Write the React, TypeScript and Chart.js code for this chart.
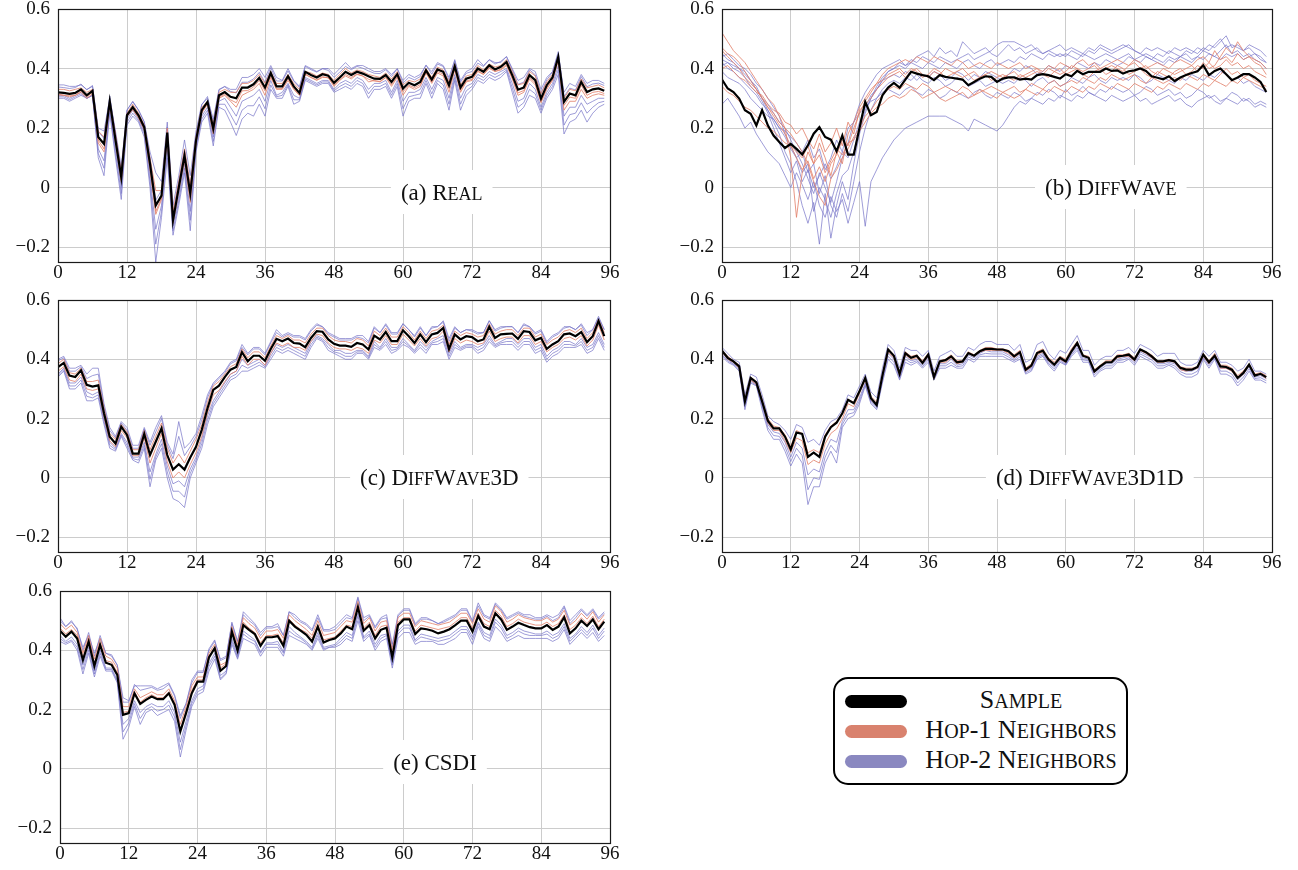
import React, { useEffect, useRef } from "react";
import { Chart, registerables } from "chart.js";

Chart.register(...registerables);

const SERIF = "'Liberation Serif', 'Times New Roman', serif";

const X_TICKS = [0, 12, 24, 36, 48, 60, 72, 84, 96];
const Y_TICKS = [-0.2, 0, 0.2, 0.4, 0.6];
const X_MIN = 0;
const X_MAX = 96;
const Y_MIN = -0.25;
const Y_MAX = 0.6;

const PANEL_LETTERS = ["(a) ", "(b) ", "(c) ", "(d) ", "(e) "];
const PANEL_NAMES = ["Real", "DiffWave", "DiffWave3D", "DiffWave3D1D", "CSDI"];
const LEGEND_LABELS = ["Sample", "Hop-1 Neighbors", "Hop-2 Neighbors"];

const COLOR_SAMPLE = "#000000";
const COLOR_HOP1 = "rgba(226,128,106,0.82)";
const COLOR_HOP2 = "rgba(118,116,200,0.70)";
const LEGEND_COLORS = ["#000000", "#D9826E", "#8A88C0"];

// ---------------- (a) Real ----------------
const A_SAMPLE = [0.32,0.318,0.315,0.318,0.33,0.31,0.325,0.17,0.147,0.29,
0.16,0.035,0.243,0.27,0.243,0.203,0.08,-0.06,-0.027,0.185,
-0.11,0.0,0.108,-0.02,0.158,0.26,0.288,0.198,0.31,0.321,
0.305,0.3,0.336,0.336,0.347,0.369,0.336,0.385,0.34,0.34,
0.374,0.34,0.318,0.389,0.378,0.37,0.381,0.376,0.352,0.37,
0.389,0.378,0.389,0.383,0.374,0.366,0.365,0.378,0.355,0.381,
0.333,0.352,0.344,0.355,0.394,0.363,0.397,0.389,0.344,0.408,
0.336,0.366,0.372,0.4,0.389,0.411,0.397,0.406,0.422,0.378,
0.329,0.336,0.378,0.361,0.299,0.344,0.37,0.439,0.288,0.316,
0.31,0.355,0.321,0.33,0.333,0.325];
const A_HOP1_1 = [0.33,0.33,0.325,0.33,0.335,0.32,0.33,0.19,0.17,0.29,
0.18,0.05,0.25,0.28,0.25,0.21,0.10,-0.01,-0.01,0.20,
-0.08,0.02,0.13,0.01,0.17,0.27,0.29,0.21,0.32,0.33,
0.32,0.32,0.35,0.35,0.36,0.38,0.35,0.39,0.35,0.35,
0.38,0.35,0.33,0.39,0.385,0.375,0.385,0.38,0.36,0.38,
0.40,0.385,0.395,0.39,0.38,0.375,0.37,0.385,0.365,0.39,
0.345,0.36,0.355,0.365,0.40,0.37,0.405,0.395,0.355,0.415,
0.345,0.375,0.38,0.41,0.395,0.415,0.405,0.41,0.43,0.39,
0.345,0.35,0.39,0.375,0.315,0.355,0.38,0.44,0.30,0.33,
0.325,0.365,0.335,0.34,0.345,0.335];
const A_HOP1_2 = [0.315,0.31,0.31,0.31,0.325,0.305,0.32,0.15,0.12,0.28,
0.15,0.02,0.24,0.265,0.235,0.195,0.06,-0.09,-0.04,0.17,
-0.12,-0.01,0.09,-0.05,0.15,0.25,0.28,0.18,0.30,0.31,
0.29,0.27,0.31,0.32,0.33,0.35,0.31,0.37,0.33,0.33,
0.36,0.33,0.31,0.38,0.37,0.36,0.37,0.37,0.34,0.36,
0.375,0.365,0.38,0.375,0.355,0.36,0.355,0.37,0.34,0.37,
0.31,0.34,0.33,0.34,0.385,0.35,0.385,0.375,0.32,0.395,
0.32,0.355,0.36,0.39,0.38,0.40,0.39,0.395,0.41,0.365,
0.31,0.32,0.365,0.345,0.285,0.33,0.36,0.425,0.26,0.29,
0.29,0.33,0.30,0.31,0.315,0.31];
const A_HOP1_3 = [0.312,0.31,0.305,0.31,0.32,0.30,0.315,0.16,0.13,0.285,
0.155,0.025,0.238,0.262,0.235,0.195,0.07,-0.08,-0.035,0.178,
-0.115,-0.005,0.10,-0.03,0.152,0.255,0.282,0.19,0.304,0.314,
0.295,0.285,0.325,0.326,0.338,0.36,0.325,0.377,0.332,0.333,
0.366,0.332,0.31,0.382,0.37,0.362,0.373,0.368,0.344,0.362,
0.38,0.37,0.382,0.375,0.364,0.358,0.357,0.37,0.346,0.373,
0.322,0.344,0.336,0.346,0.387,0.355,0.39,0.381,0.333,0.4,
0.327,0.358,0.364,0.393,0.381,0.404,0.39,0.398,0.414,0.37,
0.318,0.326,0.37,0.352,0.29,0.336,0.362,0.43,0.276,0.304,
0.3,0.344,0.31,0.32,0.323,0.316];
const A_HOP2_1 = [0.345,0.345,0.34,0.34,0.345,0.33,0.34,0.20,0.19,0.30,
0.19,0.07,0.26,0.29,0.26,0.22,0.12,0.05,0.02,0.22,
-0.06,0.04,0.16,0.04,0.19,0.28,0.30,0.23,0.33,0.34,
0.33,0.33,0.37,0.37,0.38,0.40,0.37,0.41,0.37,0.36,
0.40,0.36,0.34,0.41,0.40,0.39,0.40,0.40,0.38,0.40,
0.42,0.40,0.41,0.41,0.40,0.39,0.39,0.40,0.38,0.40,
0.36,0.38,0.37,0.38,0.41,0.39,0.42,0.41,0.37,0.43,
0.36,0.39,0.40,0.43,0.41,0.43,0.42,0.42,0.44,0.40,
0.36,0.37,0.40,0.39,0.33,0.37,0.39,0.45,0.32,0.35,
0.34,0.38,0.35,0.36,0.36,0.35];
const A_HOP2_2 = [0.31,0.31,0.30,0.31,0.32,0.30,0.31,0.13,0.09,0.27,
0.13,0.00,0.23,0.26,0.23,0.19,0.04,-0.14,-0.06,0.15,
-0.13,-0.03,0.08,-0.08,0.14,0.24,0.27,0.17,0.29,0.30,
0.27,0.24,0.29,0.30,0.31,0.33,0.29,0.36,0.31,0.32,
0.35,0.31,0.30,0.37,0.36,0.35,0.36,0.36,0.33,0.35,
0.36,0.35,0.37,0.36,0.33,0.35,0.35,0.36,0.32,0.36,
0.29,0.32,0.32,0.33,0.37,0.33,0.37,0.36,0.30,0.38,
0.30,0.34,0.35,0.38,0.37,0.39,0.38,0.39,0.40,0.35,
0.29,0.30,0.35,0.33,0.27,0.32,0.35,0.41,0.24,0.27,
0.27,0.31,0.28,0.29,0.30,0.30];
const A_HOP2_3 = [0.30,0.30,0.29,0.30,0.31,0.30,0.31,0.10,0.04,0.25,
0.10,-0.04,0.21,0.24,0.22,0.17,0.00,-0.25,-0.10,0.10,
-0.16,-0.06,0.05,-0.145,0.12,0.22,0.25,0.14,0.27,0.26,
0.22,0.175,0.23,0.25,0.24,0.28,0.24,0.33,0.30,0.30,
0.34,0.28,0.29,0.36,0.35,0.34,0.35,0.35,0.32,0.33,
0.34,0.33,0.35,0.34,0.30,0.33,0.33,0.34,0.30,0.34,
0.24,0.29,0.30,0.30,0.35,0.30,0.35,0.33,0.26,0.36,
0.26,0.31,0.33,0.36,0.35,0.37,0.36,0.37,0.39,0.32,
0.25,0.27,0.31,0.30,0.25,0.30,0.33,0.38,0.18,0.22,
0.23,0.26,0.22,0.25,0.27,0.28];
const A_HOP2_4 = [0.305,0.305,0.295,0.305,0.315,0.30,0.31,0.115,0.065,0.26,
0.115,-0.02,0.22,0.25,0.225,0.18,0.02,-0.19,-0.08,0.125,
-0.145,-0.045,0.065,-0.11,0.13,0.23,0.26,0.155,0.28,0.28,
0.245,0.21,0.26,0.275,0.275,0.305,0.265,0.345,0.305,0.31,
0.345,0.295,0.295,0.365,0.355,0.345,0.355,0.355,0.325,0.34,
0.35,0.34,0.36,0.35,0.315,0.34,0.34,0.35,0.31,0.35,
0.265,0.305,0.31,0.315,0.36,0.315,0.36,0.345,0.28,0.37,
0.28,0.325,0.34,0.37,0.36,0.38,0.37,0.38,0.395,0.335,
0.27,0.285,0.33,0.315,0.26,0.31,0.34,0.395,0.21,0.245,
0.25,0.285,0.25,0.27,0.285,0.29];
const A_HOP2_5 = [0.338,0.336,0.333,0.336,0.348,0.328,0.343,0.188,0.165,0.308,
0.178,0.053,0.261,0.288,0.261,0.221,0.098,-0.042,-0.009,0.203,
-0.092,0.018,0.126,-0.002,0.176,0.278,0.306,0.216,0.328,0.339,
0.323,0.318,0.354,0.354,0.365,0.387,0.354,0.403,0.358,0.358,
0.392,0.358,0.336,0.407,0.396,0.388,0.399,0.394,0.37,0.388,
0.407,0.396,0.407,0.401,0.392,0.384,0.383,0.396,0.373,0.399,
0.351,0.37,0.362,0.373,0.412,0.381,0.415,0.407,0.362,0.426,
0.354,0.384,0.39,0.418,0.407,0.429,0.415,0.424,0.44,0.396,
0.347,0.354,0.396,0.379,0.317,0.362,0.388,0.457,0.306,0.334,
0.328,0.373,0.339,0.348,0.351,0.343];

// ---------------- (b) DiffWave ----------------
const B_SAMPLE = [0.363,0.333,0.321,0.299,0.26,0.248,0.209,0.26,0.209,0.175,
0.153,0.133,0.147,0.13,0.111,0.142,0.181,0.203,0.17,0.161,
0.122,0.175,0.111,0.111,0.2,0.288,0.243,0.254,0.31,0.336,
0.352,0.336,0.363,0.389,0.383,0.378,0.374,0.361,0.378,0.372,
0.369,0.366,0.363,0.344,0.355,0.366,0.374,0.372,0.355,0.366,
0.37,0.37,0.363,0.366,0.363,0.378,0.381,0.378,0.372,0.366,
0.381,0.374,0.392,0.381,0.389,0.389,0.389,0.4,0.392,0.394,
0.383,0.391,0.394,0.4,0.392,0.374,0.369,0.364,0.374,0.358,
0.37,0.378,0.385,0.391,0.411,0.378,0.392,0.4,0.381,0.361,
0.37,0.381,0.381,0.37,0.355,0.321];
const B_HOP1_1 = [0.52,0.49,0.46,0.44,0.42,0.39,0.36,0.33,0.30,0.28,
0.24,0.20,0.10,-0.10,0.05,0.12,0.08,0.15,0.10,0.04,
0.12,0.08,0.18,0.22,0.27,0.30,0.33,0.35,0.38,0.40,
0.41,0.42,0.43,0.42,0.44,0.43,0.42,0.44,0.43,0.42,
0.41,0.43,0.42,0.40,0.41,0.42,0.41,0.40,0.42,0.41,
0.40,0.41,0.42,0.40,0.41,0.40,0.39,0.41,0.40,0.42,
0.41,0.40,0.42,0.43,0.41,0.42,0.40,0.41,0.42,0.43,
0.42,0.41,0.43,0.42,0.40,0.41,0.42,0.41,0.40,0.42,
0.43,0.42,0.41,0.43,0.44,0.42,0.46,0.43,0.44,0.42,
0.45,0.43,0.44,0.42,0.41,0.38];
const B_HOP1_2 = [0.46,0.44,0.42,0.40,0.37,0.35,0.33,0.30,0.27,0.25,
0.22,0.20,0.18,0.15,0.12,0.08,0.02,-0.03,-0.06,0.03,
0.06,0.10,0.13,0.17,0.20,0.24,0.26,0.29,0.31,0.33,
0.34,0.33,0.35,0.34,0.33,0.35,0.34,0.32,0.33,0.34,
0.33,0.32,0.34,0.33,0.31,0.32,0.33,0.34,0.33,0.32,
0.33,0.34,0.32,0.33,0.35,0.34,0.33,0.35,0.36,0.34,
0.35,0.36,0.35,0.37,0.36,0.35,0.37,0.36,0.38,0.37,
0.36,0.37,0.38,0.36,0.35,0.37,0.36,0.35,0.36,0.37,
0.36,0.38,0.37,0.36,0.38,0.37,0.36,0.38,0.40,0.38,
0.39,0.37,0.38,0.36,0.35,0.34];
const B_HOP1_3 = [0.40,0.41,0.39,0.37,0.36,0.34,0.32,0.31,0.28,0.26,
0.25,0.22,0.21,0.18,0.20,0.16,0.13,0.18,0.12,0.15,
0.20,0.14,0.22,0.18,0.26,0.28,0.30,0.33,0.35,0.37,
0.38,0.39,0.37,0.39,0.40,0.38,0.37,0.39,0.38,0.40,
0.39,0.38,0.37,0.38,0.36,0.37,0.38,0.36,0.37,0.38,
0.37,0.36,0.38,0.37,0.38,0.39,0.38,0.40,0.39,0.38,
0.39,0.41,0.40,0.39,0.40,0.41,0.39,0.40,0.41,0.40,
0.39,0.41,0.42,0.40,0.41,0.39,0.38,0.40,0.39,0.38,
0.39,0.40,0.41,0.39,0.42,0.40,0.41,0.44,0.47,0.45,
0.49,0.46,0.44,0.43,0.42,0.40];
const B_HOP1_4 = [0.34,0.32,0.31,0.29,0.27,0.26,0.24,0.22,0.20,0.19,
0.17,0.15,0.14,0.12,0.10,0.14,0.08,0.11,0.05,0.09,
0.13,0.11,0.15,0.16,0.19,0.22,0.25,0.27,0.28,0.30,
0.31,0.30,0.31,0.33,0.32,0.30,0.31,0.32,0.30,0.29,
0.30,0.31,0.32,0.30,0.31,0.33,0.32,0.31,0.30,0.32,
0.31,0.30,0.31,0.33,0.32,0.31,0.33,0.32,0.34,0.33,
0.32,0.34,0.33,0.32,0.34,0.33,0.35,0.34,0.33,0.35,
0.34,0.33,0.35,0.34,0.33,0.32,0.34,0.33,0.35,0.34,
0.33,0.35,0.34,0.33,0.35,0.34,0.36,0.35,0.34,0.36,
0.35,0.37,0.36,0.35,0.34,0.33];
const B_HOP1_5 = [0.47,0.45,0.44,0.42,0.39,0.36,0.33,0.30,0.27,0.24,
0.21,0.18,0.14,0.10,0.06,0.09,0.03,0.07,0.02,0.08,
0.11,0.16,0.14,0.20,0.25,0.29,0.32,0.35,0.36,0.38,
0.39,0.40,0.38,0.40,0.39,0.37,0.38,0.40,0.39,0.37,
0.38,0.39,0.40,0.38,0.39,0.37,0.38,0.39,0.38,0.37,
0.38,0.39,0.37,0.38,0.39,0.40,0.38,0.37,0.39,0.40,
0.38,0.39,0.40,0.38,0.37,0.39,0.40,0.38,0.39,0.41,
0.40,0.38,0.39,0.40,0.38,0.37,0.39,0.38,0.37,0.39,
0.40,0.38,0.39,0.41,0.40,0.42,0.40,0.41,0.43,0.41,
0.42,0.40,0.41,0.39,0.38,0.37];
const B_HOP2_1 = [0.43,0.42,0.41,0.40,0.38,0.36,0.34,0.30,0.28,0.25,
0.22,0.20,0.16,0.12,0.08,0.03,-0.02,0.05,0.00,-0.05,
0.02,0.10,0.15,0.22,0.28,0.32,0.35,0.38,0.40,0.41,
0.42,0.43,0.41,0.42,0.44,0.45,0.46,0.44,0.47,0.45,
0.46,0.44,0.49,0.47,0.45,0.46,0.47,0.45,0.44,0.46,
0.48,0.46,0.47,0.45,0.46,0.47,0.45,0.46,0.47,0.48,
0.46,0.47,0.46,0.45,0.47,0.46,0.48,0.47,0.46,0.47,
0.48,0.47,0.46,0.45,0.47,0.46,0.47,0.46,0.45,0.47,
0.46,0.47,0.46,0.45,0.47,0.46,0.48,0.50,0.47,0.48,
0.47,0.46,0.48,0.47,0.46,0.44];
const B_HOP2_2 = [0.45,0.43,0.42,0.40,0.39,0.36,0.33,0.30,0.26,0.22,
0.18,0.12,0.08,0.02,-0.06,-0.12,-0.05,-0.19,-0.02,-0.17,
-0.06,0.02,-0.04,0.08,0.18,0.25,0.30,0.34,0.37,0.39,
0.40,0.42,0.41,0.43,0.42,0.44,0.43,0.42,0.44,0.43,
0.42,0.43,0.44,0.45,0.43,0.44,0.45,0.46,0.48,0.49,
0.49,0.49,0.48,0.47,0.48,0.46,0.45,0.46,0.45,0.44,
0.45,0.44,0.43,0.45,0.44,0.43,0.44,0.45,0.44,0.43,
0.44,0.45,0.43,0.44,0.45,0.44,0.43,0.42,0.44,0.43,
0.44,0.45,0.43,0.44,0.46,0.45,0.44,0.43,0.45,0.44,
0.45,0.43,0.44,0.45,0.43,0.42];
const B_HOP2_3 = [0.28,0.30,0.27,0.24,0.20,0.22,0.18,0.15,0.12,0.10,
0.08,0.04,0.00,0.05,0.01,-0.04,0.02,-0.06,-0.10,-0.03,
-0.08,-0.04,-0.12,-0.05,0.02,-0.13,0.02,0.06,0.10,0.13,
0.16,0.18,0.20,0.21,0.22,0.23,0.24,0.24,0.24,0.24,
0.23,0.22,0.21,0.19,0.23,0.22,0.21,0.20,0.19,0.21,
0.24,0.27,0.29,0.28,0.30,0.29,0.28,0.30,0.29,0.31,
0.30,0.29,0.31,0.30,0.32,0.31,0.30,0.29,0.31,0.30,
0.29,0.30,0.31,0.29,0.30,0.28,0.29,0.30,0.31,0.29,
0.30,0.28,0.27,0.29,0.30,0.31,0.29,0.28,0.30,0.29,
0.28,0.30,0.29,0.27,0.28,0.27];
const B_HOP2_4 = [0.41,0.42,0.40,0.39,0.37,0.34,0.32,0.29,0.25,0.20,
0.15,0.10,0.05,0.09,0.02,0.06,0.00,0.04,0.08,0.03,
0.07,0.12,0.10,0.16,0.22,0.27,0.31,0.33,0.36,0.37,
0.38,0.37,0.39,0.38,0.36,0.38,0.37,0.39,0.38,0.36,
0.37,0.39,0.38,0.36,0.38,0.37,0.39,0.38,0.37,0.36,
0.38,0.40,0.39,0.41,0.40,0.38,0.39,0.41,0.40,0.39,
0.41,0.40,0.42,0.41,0.40,0.42,0.41,0.43,0.42,0.41,
0.42,0.44,0.43,0.42,0.44,0.43,0.42,0.41,0.43,0.42,
0.44,0.43,0.42,0.44,0.43,0.45,0.44,0.46,0.48,0.45,
0.46,0.44,0.45,0.43,0.42,0.40];
const B_HOP2_5 = [0.39,0.37,0.36,0.35,0.33,0.30,0.28,0.26,0.24,0.23,
0.20,0.19,0.17,0.15,0.12,0.16,0.10,0.13,0.06,0.10,
0.16,0.12,0.20,0.22,0.25,0.27,0.29,0.30,0.32,0.33,
0.32,0.31,0.33,0.34,0.32,0.31,0.33,0.32,0.30,0.31,
0.33,0.32,0.31,0.30,0.32,0.33,0.31,0.30,0.32,0.31,
0.30,0.32,0.31,0.29,0.30,0.32,0.31,0.33,0.32,0.30,
0.33,0.31,0.32,0.34,0.32,0.31,0.33,0.32,0.34,0.33,
0.32,0.33,0.31,0.32,0.34,0.33,0.31,0.32,0.33,0.31,
0.32,0.30,0.31,0.33,0.32,0.30,0.31,0.29,0.30,0.32,
0.31,0.29,0.30,0.28,0.29,0.28];
const B_HOP2_6 = [0.44,0.45,0.43,0.41,0.40,0.38,0.35,0.33,0.30,0.27,
0.24,0.18,0.14,0.10,0.05,0.08,-0.08,0.00,-0.04,-0.10,
-0.02,0.04,0.06,0.12,0.20,0.26,0.30,0.33,0.36,0.39,
0.40,0.41,0.40,0.42,0.41,0.40,0.42,0.41,0.40,0.42,
0.41,0.40,0.42,0.43,0.41,0.40,0.42,0.43,0.41,0.42,
0.43,0.42,0.44,0.43,0.45,0.44,0.43,0.45,0.44,0.45,
0.44,0.46,0.45,0.44,0.46,0.45,0.47,0.46,0.45,0.46,
0.47,0.48,0.46,0.45,0.44,0.43,0.45,0.44,0.46,0.45,
0.44,0.46,0.45,0.47,0.46,0.48,0.47,0.49,0.51,0.47,
0.48,0.46,0.47,0.45,0.44,0.42];
const B_HOP2_7 = [0.42,0.40,0.39,0.37,0.35,0.33,0.31,0.28,0.26,0.23,
0.20,0.17,0.13,0.10,0.12,0.05,0.08,-0.02,0.04,-0.06,
-0.10,-0.02,-0.08,0.02,0.12,0.20,0.26,0.30,0.33,0.35,
0.36,0.35,0.37,0.36,0.38,0.36,0.35,0.37,0.36,0.34,
0.35,0.37,0.36,0.34,0.35,0.36,0.34,0.35,0.36,0.35,
0.36,0.35,0.37,0.36,0.34,0.36,0.37,0.35,0.36,0.34,
0.35,0.37,0.36,0.35,0.37,0.38,0.36,0.35,0.37,0.36,
0.37,0.36,0.38,0.37,0.35,0.36,0.38,0.37,0.36,0.35,
0.37,0.36,0.38,0.37,0.36,0.38,0.37,0.39,0.38,0.36,
0.37,0.35,0.36,0.34,0.33,0.32];

// ---------------- (c) DiffWave3D ----------------
const C_SAMPLE = [0.374,0.388,0.345,0.34,0.363,0.314,0.308,0.312,0.218,0.139,
0.116,0.173,0.145,0.082,0.082,0.148,0.077,0.122,0.167,0.077,
0.028,0.046,0.028,0.069,0.105,0.162,0.235,0.297,0.311,0.34,
0.365,0.374,0.424,0.393,0.412,0.412,0.395,0.435,0.469,0.461,
0.47,0.455,0.453,0.441,0.472,0.495,0.493,0.467,0.452,0.446,
0.446,0.442,0.455,0.45,0.433,0.48,0.467,0.492,0.461,0.461,
0.498,0.478,0.455,0.484,0.458,0.484,0.489,0.506,0.435,0.484,
0.467,0.478,0.475,0.461,0.467,0.51,0.472,0.484,0.486,0.487,
0.469,0.495,0.492,0.464,0.472,0.435,0.45,0.461,0.484,0.487,
0.478,0.492,0.458,0.478,0.529,0.478];
const C_HOP1_1 = [0.385,0.40,0.355,0.35,0.37,0.325,0.325,0.33,0.235,0.15,
0.13,0.18,0.155,0.095,0.095,0.16,0.095,0.14,0.185,0.10,
0.05,0.08,0.05,0.09,0.13,0.18,0.255,0.31,0.325,0.35,
0.375,0.385,0.435,0.405,0.425,0.425,0.405,0.445,0.48,0.47,
0.48,0.465,0.465,0.455,0.485,0.505,0.505,0.48,0.465,0.46,
0.46,0.455,0.47,0.465,0.445,0.495,0.48,0.505,0.475,0.475,
0.51,0.49,0.465,0.495,0.47,0.495,0.50,0.515,0.45,0.495,
0.48,0.49,0.485,0.475,0.48,0.52,0.485,0.495,0.50,0.50,
0.48,0.505,0.505,0.475,0.485,0.45,0.465,0.475,0.495,0.50,
0.49,0.505,0.47,0.49,0.535,0.49];
const C_HOP1_2 = [0.36,0.375,0.33,0.325,0.35,0.30,0.295,0.30,0.205,0.125,
0.105,0.16,0.135,0.075,0.075,0.135,0.05,0.10,0.15,0.055,
0.0,0.02,0.0,0.045,0.085,0.14,0.22,0.28,0.295,0.325,
0.35,0.36,0.41,0.38,0.40,0.40,0.38,0.42,0.455,0.445,
0.455,0.44,0.44,0.43,0.46,0.485,0.48,0.455,0.44,0.435,
0.435,0.43,0.44,0.435,0.42,0.465,0.455,0.48,0.45,0.45,
0.485,0.465,0.445,0.47,0.445,0.47,0.475,0.495,0.425,0.47,
0.455,0.465,0.46,0.45,0.455,0.495,0.46,0.47,0.475,0.475,
0.455,0.48,0.48,0.45,0.46,0.425,0.44,0.45,0.47,0.475,
0.465,0.48,0.445,0.465,0.515,0.465];
const C_HOP2_1 = [0.40,0.41,0.37,0.37,0.38,0.35,0.37,0.37,0.25,0.17,
0.14,0.19,0.17,0.11,0.11,0.17,0.12,0.17,0.21,0.12,
0.08,0.19,0.10,0.12,0.15,0.21,0.28,0.32,0.34,0.36,
0.39,0.40,0.45,0.42,0.44,0.44,0.42,0.46,0.50,0.48,
0.49,0.48,0.48,0.47,0.50,0.52,0.51,0.49,0.48,0.47,
0.47,0.47,0.48,0.48,0.46,0.51,0.49,0.52,0.49,0.49,
0.52,0.50,0.48,0.51,0.48,0.51,0.51,0.53,0.47,0.51,
0.49,0.50,0.50,0.49,0.49,0.53,0.50,0.51,0.51,0.51,
0.49,0.52,0.51,0.49,0.50,0.46,0.48,0.49,0.51,0.51,
0.50,0.52,0.49,0.50,0.54,0.50];
const C_HOP2_2 = [0.35,0.37,0.32,0.32,0.34,0.29,0.28,0.29,0.20,0.12,
0.10,0.15,0.12,0.07,0.07,0.12,0.02,0.08,0.13,0.04,
-0.02,-0.01,-0.03,0.03,0.07,0.13,0.21,0.26,0.29,0.32,
0.35,0.36,0.40,0.38,0.39,0.40,0.38,0.42,0.45,0.44,
0.45,0.44,0.43,0.42,0.46,0.48,0.47,0.45,0.43,0.43,
0.42,0.42,0.43,0.43,0.41,0.46,0.44,0.47,0.44,0.44,
0.47,0.45,0.43,0.46,0.44,0.46,0.47,0.48,0.42,0.46,
0.44,0.45,0.45,0.44,0.45,0.48,0.45,0.46,0.47,0.47,
0.45,0.47,0.47,0.44,0.45,0.41,0.43,0.44,0.46,0.46,
0.45,0.47,0.44,0.45,0.49,0.45];
const C_HOP2_3 = [0.34,0.36,0.30,0.30,0.32,0.26,0.26,0.27,0.18,0.10,
0.09,0.14,0.10,0.06,0.05,0.10,-0.03,0.06,0.10,0.00,
-0.07,-0.08,-0.10,0.00,0.05,0.10,0.18,0.24,0.27,0.30,
0.33,0.34,0.36,0.36,0.37,0.38,0.37,0.40,0.43,0.42,
0.43,0.42,0.41,0.40,0.44,0.47,0.46,0.43,0.42,0.41,
0.40,0.40,0.42,0.42,0.40,0.44,0.43,0.45,0.42,0.43,
0.45,0.44,0.42,0.44,0.42,0.45,0.45,0.46,0.40,0.44,
0.43,0.44,0.44,0.42,0.43,0.46,0.44,0.45,0.45,0.45,
0.43,0.45,0.45,0.42,0.43,0.39,0.41,0.42,0.44,0.44,
0.44,0.45,0.42,0.43,0.47,0.43];
const C_HOP2_4 = [0.395,0.405,0.36,0.36,0.375,0.335,0.345,0.35,0.24,0.16,
0.135,0.185,0.16,0.10,0.10,0.165,0.11,0.155,0.20,0.11,
0.065,0.14,0.075,0.105,0.14,0.195,0.27,0.315,0.335,0.355,
0.385,0.395,0.44,0.415,0.435,0.435,0.415,0.455,0.49,0.475,
0.485,0.475,0.475,0.465,0.495,0.515,0.51,0.485,0.475,0.465,
0.465,0.465,0.475,0.47,0.455,0.505,0.49,0.515,0.485,0.485,
0.52,0.50,0.475,0.505,0.48,0.505,0.51,0.525,0.46,0.505,
0.49,0.50,0.495,0.485,0.49,0.53,0.495,0.505,0.51,0.51,
0.49,0.515,0.51,0.485,0.495,0.455,0.475,0.485,0.505,0.51,
0.50,0.515,0.48,0.50,0.545,0.50];
const C_HOP2_5 = [0.345,0.365,0.31,0.31,0.33,0.275,0.27,0.28,0.19,0.11,
0.095,0.145,0.11,0.065,0.06,0.11,-0.005,0.07,0.115,0.02,
-0.045,-0.045,-0.065,0.015,0.06,0.115,0.195,0.25,0.28,0.31,
0.34,0.35,0.38,0.37,0.38,0.39,0.375,0.41,0.44,0.43,
0.44,0.43,0.42,0.41,0.45,0.475,0.465,0.44,0.425,0.42,
0.41,0.41,0.425,0.425,0.405,0.45,0.435,0.46,0.43,0.435,
0.46,0.445,0.425,0.45,0.43,0.455,0.46,0.47,0.41,0.45,
0.435,0.445,0.445,0.43,0.44,0.47,0.445,0.455,0.46,0.46,
0.44,0.46,0.46,0.43,0.44,0.40,0.42,0.43,0.45,0.45,
0.445,0.46,0.43,0.44,0.48,0.44];

// ---------------- (d) DiffWave3D1D ----------------
const D_SAMPLE = [0.429,0.405,0.393,0.376,0.258,0.337,0.322,0.258,0.193,0.167,
0.167,0.139,0.096,0.153,0.148,0.071,0.085,0.071,0.139,0.171,
0.186,0.218,0.263,0.252,0.292,0.337,0.269,0.246,0.345,0.433,
0.412,0.351,0.421,0.405,0.412,0.388,0.416,0.34,0.393,0.397,
0.41,0.39,0.393,0.421,0.412,0.427,0.435,0.435,0.433,0.433,
0.427,0.41,0.424,0.365,0.379,0.421,0.429,0.399,0.382,0.405,
0.393,0.427,0.455,0.412,0.405,0.359,0.376,0.39,0.39,0.41,
0.412,0.416,0.399,0.433,0.424,0.41,0.393,0.393,0.397,0.393,
0.371,0.365,0.365,0.374,0.416,0.39,0.412,0.376,0.374,0.365,
0.337,0.354,0.382,0.345,0.351,0.34];
const D_HOP1_1 = [0.43,0.41,0.395,0.38,0.265,0.34,0.325,0.265,0.20,0.175,
0.17,0.145,0.105,0.16,0.15,0.085,0.095,0.085,0.145,0.175,
0.19,0.22,0.265,0.255,0.295,0.34,0.275,0.255,0.35,0.435,
0.415,0.355,0.425,0.41,0.415,0.395,0.42,0.345,0.395,0.40,
0.415,0.395,0.395,0.425,0.415,0.43,0.44,0.44,0.435,0.435,
0.43,0.415,0.43,0.37,0.385,0.425,0.435,0.405,0.39,0.41,
0.40,0.435,0.46,0.415,0.41,0.365,0.38,0.395,0.395,0.415,
0.415,0.42,0.405,0.435,0.425,0.415,0.395,0.395,0.40,0.395,
0.375,0.37,0.37,0.375,0.42,0.395,0.42,0.38,0.38,0.37,
0.345,0.36,0.385,0.35,0.355,0.345];
const D_HOP1_2 = [0.425,0.40,0.39,0.37,0.255,0.33,0.315,0.255,0.185,0.16,
0.16,0.125,0.085,0.135,0.125,0.045,0.06,0.05,0.115,0.15,
0.165,0.20,0.25,0.24,0.285,0.33,0.265,0.245,0.34,0.425,
0.405,0.345,0.415,0.40,0.405,0.385,0.41,0.335,0.39,0.39,
0.405,0.385,0.39,0.42,0.41,0.425,0.43,0.43,0.43,0.43,
0.42,0.405,0.42,0.36,0.375,0.415,0.425,0.395,0.38,0.40,
0.39,0.425,0.45,0.41,0.405,0.355,0.375,0.39,0.39,0.405,
0.41,0.41,0.395,0.43,0.42,0.405,0.39,0.39,0.395,0.39,
0.365,0.36,0.365,0.37,0.41,0.385,0.415,0.37,0.37,0.36,
0.335,0.35,0.38,0.345,0.35,0.335];
const D_HOP2_1 = [0.44,0.42,0.40,0.39,0.28,0.35,0.34,0.28,0.21,0.19,
0.18,0.16,0.13,0.18,0.17,0.12,0.13,0.11,0.16,0.19,
0.20,0.23,0.28,0.27,0.31,0.35,0.29,0.27,0.37,0.45,
0.43,0.37,0.44,0.43,0.43,0.41,0.43,0.36,0.41,0.42,
0.43,0.41,0.41,0.44,0.43,0.45,0.46,0.46,0.45,0.45,
0.45,0.43,0.45,0.39,0.40,0.45,0.46,0.42,0.40,0.43,
0.42,0.45,0.48,0.43,0.43,0.38,0.40,0.41,0.41,0.43,
0.43,0.44,0.42,0.45,0.44,0.43,0.41,0.42,0.42,0.42,
0.39,0.38,0.38,0.39,0.43,0.41,0.43,0.39,0.39,0.38,
0.36,0.37,0.40,0.36,0.36,0.35];
const D_HOP2_2 = [0.42,0.40,0.385,0.37,0.25,0.33,0.315,0.25,0.18,0.155,
0.15,0.12,0.07,0.12,0.10,0.01,0.03,0.02,0.09,0.13,
0.12,0.19,0.23,0.23,0.27,0.32,0.26,0.24,0.335,0.42,
0.40,0.34,0.41,0.395,0.40,0.38,0.405,0.335,0.385,0.385,
0.40,0.38,0.385,0.415,0.405,0.42,0.43,0.425,0.425,0.425,
0.415,0.40,0.415,0.36,0.37,0.41,0.42,0.39,0.375,0.40,
0.385,0.42,0.445,0.405,0.40,0.355,0.37,0.385,0.385,0.40,
0.405,0.41,0.395,0.425,0.415,0.405,0.385,0.385,0.39,0.385,
0.365,0.36,0.36,0.37,0.41,0.385,0.41,0.37,0.37,0.36,
0.33,0.35,0.375,0.34,0.345,0.335];
const D_HOP2_3 = [0.41,0.39,0.38,0.36,0.23,0.32,0.31,0.23,0.16,0.13,
0.13,0.09,0.04,0.08,0.05,-0.09,-0.03,-0.03,0.05,0.09,
0.05,0.17,0.20,0.21,0.25,0.31,0.25,0.23,0.32,0.40,
0.38,0.33,0.39,0.38,0.39,0.37,0.39,0.33,0.37,0.37,
0.38,0.37,0.37,0.40,0.39,0.41,0.41,0.41,0.41,0.41,
0.40,0.39,0.40,0.35,0.36,0.40,0.41,0.38,0.36,0.39,
0.38,0.41,0.43,0.39,0.39,0.34,0.36,0.37,0.37,0.39,
0.39,0.40,0.38,0.41,0.40,0.39,0.37,0.37,0.38,0.37,
0.35,0.34,0.34,0.35,0.40,0.37,0.40,0.35,0.35,0.34,
0.31,0.33,0.36,0.33,0.33,0.32];
const D_HOP2_4 = [0.415,0.395,0.383,0.365,0.24,0.325,0.312,0.24,0.17,0.143,
0.14,0.105,0.055,0.10,0.075,-0.04,0.0,-0.005,0.07,0.11,
0.085,0.18,0.215,0.22,0.26,0.315,0.255,0.235,0.328,0.41,
0.39,0.335,0.40,0.388,0.395,0.375,0.398,0.332,0.378,0.378,
0.39,0.375,0.378,0.408,0.398,0.415,0.42,0.418,0.418,0.418,
0.408,0.395,0.408,0.355,0.365,0.405,0.415,0.385,0.368,0.395,
0.382,0.415,0.438,0.398,0.395,0.348,0.365,0.378,0.378,0.395,
0.398,0.405,0.388,0.418,0.408,0.398,0.378,0.378,0.385,0.378,
0.358,0.35,0.35,0.36,0.405,0.378,0.405,0.36,0.36,0.35,
0.32,0.34,0.368,0.335,0.338,0.328];

// ---------------- (e) CSDI ----------------
const E_SAMPLE = [0.466,0.446,0.463,0.44,0.367,0.429,0.347,0.418,0.358,0.351,
0.317,0.182,0.188,0.255,0.219,0.233,0.244,0.235,0.235,0.255,
0.216,0.126,0.188,0.255,0.294,0.294,0.376,0.407,0.331,0.347,
0.463,0.399,0.485,0.469,0.455,0.415,0.444,0.444,0.448,0.415,
0.5,0.48,0.466,0.452,0.429,0.48,0.426,0.435,0.44,0.457,
0.48,0.471,0.545,0.466,0.485,0.44,0.469,0.476,0.376,0.485,
0.504,0.504,0.455,0.474,0.471,0.466,0.457,0.463,0.471,0.485,
0.5,0.5,0.463,0.516,0.48,0.471,0.525,0.504,0.469,0.48,
0.493,0.485,0.478,0.474,0.474,0.485,0.469,0.48,0.511,0.457,
0.474,0.5,0.482,0.504,0.471,0.497];
const E_HOP1_1 = [0.49,0.47,0.485,0.46,0.39,0.45,0.37,0.44,0.38,0.37,
0.34,0.21,0.21,0.27,0.24,0.25,0.26,0.25,0.25,0.27,
0.23,0.15,0.21,0.28,0.31,0.31,0.39,0.42,0.35,0.36,
0.48,0.42,0.51,0.49,0.475,0.44,0.465,0.465,0.47,0.44,
0.52,0.50,0.485,0.47,0.45,0.50,0.45,0.455,0.46,0.48,
0.50,0.495,0.565,0.49,0.51,0.465,0.495,0.50,0.40,0.51,
0.525,0.525,0.48,0.50,0.495,0.49,0.485,0.49,0.495,0.51,
0.525,0.525,0.49,0.54,0.505,0.495,0.55,0.53,0.495,0.505,
0.52,0.51,0.505,0.50,0.50,0.51,0.495,0.505,0.535,0.485,
0.50,0.525,0.505,0.53,0.495,0.52];
const E_HOP1_2 = [0.475,0.455,0.47,0.45,0.375,0.44,0.355,0.425,0.365,0.36,
0.325,0.19,0.195,0.26,0.225,0.24,0.25,0.24,0.24,0.26,
0.22,0.13,0.195,0.265,0.30,0.30,0.38,0.41,0.34,0.355,
0.47,0.41,0.495,0.475,0.46,0.425,0.45,0.45,0.455,0.425,
0.505,0.485,0.47,0.46,0.44,0.485,0.435,0.44,0.445,0.465,
0.485,0.48,0.55,0.475,0.495,0.45,0.48,0.485,0.385,0.495,
0.51,0.51,0.465,0.485,0.48,0.475,0.47,0.475,0.48,0.495,
0.51,0.51,0.475,0.525,0.49,0.48,0.535,0.515,0.48,0.49,
0.505,0.495,0.49,0.485,0.485,0.495,0.48,0.49,0.52,0.47,
0.485,0.51,0.49,0.515,0.48,0.505];
const E_HOP2_1 = [0.51,0.48,0.50,0.47,0.41,0.45,0.39,0.44,0.39,0.38,
0.35,0.24,0.23,0.28,0.28,0.28,0.28,0.27,0.28,0.29,
0.25,0.18,0.22,0.30,0.33,0.33,0.40,0.43,0.37,0.38,
0.49,0.43,0.53,0.51,0.49,0.46,0.48,0.48,0.49,0.45,
0.53,0.52,0.50,0.49,0.47,0.52,0.47,0.47,0.48,0.50,
0.52,0.51,0.58,0.51,0.52,0.48,0.51,0.52,0.42,0.52,
0.54,0.54,0.49,0.51,0.51,0.50,0.49,0.50,0.51,0.52,
0.54,0.54,0.50,0.56,0.52,0.51,0.56,0.54,0.51,0.52,
0.53,0.52,0.52,0.51,0.51,0.52,0.51,0.52,0.55,0.50,
0.52,0.54,0.52,0.54,0.51,0.53];
const E_HOP2_2 = [0.45,0.43,0.445,0.42,0.35,0.41,0.33,0.40,0.34,0.34,
0.30,0.15,0.17,0.23,0.19,0.21,0.22,0.21,0.21,0.23,
0.19,0.09,0.16,0.23,0.27,0.28,0.355,0.39,0.315,0.33,
0.44,0.38,0.465,0.45,0.435,0.395,0.425,0.425,0.43,0.395,
0.48,0.46,0.445,0.43,0.41,0.46,0.41,0.415,0.42,0.44,
0.46,0.45,0.525,0.445,0.465,0.42,0.45,0.455,0.36,0.465,
0.485,0.485,0.435,0.455,0.45,0.445,0.44,0.445,0.45,0.465,
0.48,0.48,0.445,0.495,0.46,0.45,0.505,0.485,0.45,0.46,
0.475,0.465,0.46,0.455,0.455,0.465,0.45,0.46,0.49,0.44,
0.455,0.48,0.46,0.485,0.45,0.475];
const E_HOP2_3 = [0.43,0.42,0.43,0.40,0.32,0.39,0.31,0.38,0.33,0.33,
0.29,0.10,0.14,0.21,0.15,0.19,0.20,0.18,0.19,0.20,
0.16,0.04,0.13,0.21,0.25,0.26,0.33,0.37,0.30,0.32,
0.42,0.37,0.44,0.43,0.42,0.38,0.41,0.41,0.41,0.38,
0.45,0.44,0.43,0.42,0.40,0.44,0.40,0.41,0.41,0.42,
0.44,0.43,0.50,0.43,0.45,0.40,0.43,0.44,0.34,0.44,
0.46,0.46,0.42,0.43,0.43,0.43,0.42,0.42,0.43,0.44,
0.46,0.46,0.42,0.48,0.44,0.43,0.48,0.46,0.43,0.44,
0.45,0.44,0.44,0.44,0.44,0.44,0.43,0.44,0.47,0.42,
0.44,0.46,0.44,0.46,0.43,0.45];
const E_HOP2_4 = [0.50,0.48,0.495,0.475,0.40,0.46,0.38,0.45,0.39,0.385,
0.35,0.225,0.225,0.285,0.265,0.27,0.275,0.265,0.27,0.285,
0.245,0.17,0.22,0.29,0.325,0.325,0.405,0.435,0.365,0.375,
0.495,0.43,0.52,0.50,0.485,0.45,0.475,0.475,0.48,0.45,
0.53,0.51,0.495,0.485,0.465,0.51,0.465,0.465,0.47,0.49,
0.51,0.505,0.575,0.50,0.515,0.475,0.505,0.51,0.41,0.515,
0.535,0.535,0.485,0.505,0.505,0.50,0.49,0.495,0.505,0.515,
0.535,0.535,0.495,0.55,0.515,0.505,0.555,0.535,0.505,0.515,
0.525,0.515,0.51,0.505,0.505,0.515,0.50,0.51,0.545,0.49,
0.51,0.535,0.515,0.535,0.505,0.525];
const E_HOP2_5 = [0.44,0.425,0.435,0.41,0.335,0.40,0.32,0.39,0.335,0.335,
0.295,0.125,0.155,0.22,0.17,0.20,0.21,0.195,0.20,0.215,
0.175,0.065,0.145,0.22,0.26,0.27,0.345,0.38,0.305,0.325,
0.43,0.375,0.455,0.44,0.43,0.39,0.42,0.42,0.42,0.39,
0.465,0.45,0.44,0.425,0.405,0.45,0.405,0.41,0.415,0.43,
0.45,0.44,0.515,0.44,0.455,0.41,0.44,0.45,0.35,0.455,
0.475,0.475,0.43,0.445,0.44,0.435,0.43,0.435,0.44,0.455,
0.47,0.47,0.435,0.49,0.45,0.44,0.495,0.475,0.44,0.45,
0.465,0.455,0.45,0.45,0.45,0.455,0.44,0.45,0.48,0.43,
0.45,0.47,0.45,0.475,0.44,0.465];

type Box = { left: number; top: number; width: number; height: number };
type Area = { left: number; top: number; right: number; bottom: number };
type PanelDef = {
  letter: string;
  name: string;
  sample: number[];
  hop1: number[][];
  hop2: number[][];
  canvas: Box;
  area: Area;
  titleX: number;
  titleY: number;
};

const PANELS: PanelDef[] = [
  {
    letter: PANEL_LETTERS[0], name: PANEL_NAMES[0], sample: A_SAMPLE,
    hop1: [A_HOP1_1, A_HOP1_2, A_HOP1_3], hop2: [A_HOP2_1, A_HOP2_2, A_HOP2_3, A_HOP2_4, A_HOP2_5],
    canvas: { left: 0, top: 0, width: 640, height: 292 },
    area: { left: 58, top: 9, right: 610, bottom: 262 },
    titleX: 441.7, titleY: 192,
  },
  {
    letter: PANEL_LETTERS[1], name: PANEL_NAMES[1], sample: B_SAMPLE,
    hop1: [B_HOP1_1, B_HOP1_2, B_HOP1_3, B_HOP1_4, B_HOP1_5],
    hop2: [B_HOP2_1, B_HOP2_2, B_HOP2_3, B_HOP2_4, B_HOP2_5, B_HOP2_6, B_HOP2_7],
    canvas: { left: 650, top: 0, width: 648, height: 292 },
    area: { left: 722, top: 9, right: 1272, bottom: 262 },
    titleX: 1110.8, titleY: 187,
  },
  {
    letter: PANEL_LETTERS[2], name: PANEL_NAMES[2], sample: C_SAMPLE,
    hop1: [C_HOP1_1, C_HOP1_2], hop2: [C_HOP2_1, C_HOP2_2, C_HOP2_3, C_HOP2_4, C_HOP2_5],
    canvas: { left: 0, top: 290, width: 640, height: 292 },
    area: { left: 58, top: 300, right: 610, bottom: 552 },
    titleX: 439.3, titleY: 477,
  },
  {
    letter: PANEL_LETTERS[3], name: PANEL_NAMES[3], sample: D_SAMPLE,
    hop1: [D_HOP1_1, D_HOP1_2], hop2: [D_HOP2_1, D_HOP2_2, D_HOP2_3, D_HOP2_4],
    canvas: { left: 650, top: 290, width: 648, height: 292 },
    area: { left: 722, top: 300, right: 1272, bottom: 552 },
    titleX: 1089.8, titleY: 477,
  },
  {
    letter: PANEL_LETTERS[4], name: PANEL_NAMES[4], sample: E_SAMPLE,
    hop1: [E_HOP1_1, E_HOP1_2], hop2: [E_HOP2_1, E_HOP2_2, E_HOP2_3, E_HOP2_4, E_HOP2_5],
    canvas: { left: 0, top: 580, width: 640, height: 290 },
    area: { left: 60, top: 591, right: 610, bottom: 843 },
    titleX: 435, titleY: 762,
  },
];

type Seg = { t: string; small: boolean; w?: number };

function capsSegments(text: string, smallCaps: boolean, out: Seg[] = []): Seg[] {
  for (const ch of text) {
    const small = smallCaps && /[a-z]/.test(ch);
    const t = small ? ch.toUpperCase() : ch;
    const last = out[out.length - 1];
    if (last && last.small === small) last.t += t;
    else out.push({ t, small });
  }
  return out;
}

const titlePlugin = {
  id: "panelTitle",
  beforeDatasetsDraw(chart: any, _args: any, opts: any) {
    if (!opts || !opts.name) return;
    const ctx = chart.ctx as CanvasRenderingContext2D;
    const big = opts.size as number;
    const small = Math.round(big * 0.78);
    const segs = capsSegments(opts.name, true, capsSegments(opts.letter, false));
    ctx.save();
    let total = 0;
    for (const s of segs) {
      ctx.font = `${s.small ? small : big}px ${SERIF}`;
      s.w = ctx.measureText(s.t).width;
      total += s.w;
    }
    const x0 = opts.cx - total / 2;
    const padX = 10;
    const boxH = 44;
    ctx.fillStyle = "#ffffff";
    ctx.fillRect(x0 - padX, opts.cy - boxH / 2, total + 2 * padX, boxH);
    ctx.fillStyle = "#111111";
    ctx.textBaseline = "alphabetic";
    ctx.textAlign = "left";
    const base = opts.cy + big * 0.33;
    let x = x0;
    for (const s of segs) {
      ctx.font = `${s.small ? small : big}px ${SERIF}`;
      ctx.fillText(s.t, x, base);
      x += s.w || 0;
    }
    ctx.restore();
  },
};

const framePlugin = {
  id: "panelFrame",
  afterDatasetsDraw(chart: any) {
    const { left, top, right, bottom } = chart.chartArea;
    const ctx = chart.ctx as CanvasRenderingContext2D;
    ctx.save();
    ctx.strokeStyle = "#1a1a1a";
    ctx.lineWidth = 1.2;
    ctx.strokeRect(Math.round(left) + 0.5, Math.round(top) + 0.5, Math.round(right - left), Math.round(bottom - top));
    ctx.restore();
  },
};

function toPoints(arr: number[]) {
  return arr.map((y, i) => ({ x: i, y }));
}

function fmtTick(v: number): string {
  if (Math.abs(v) < 1e-9) return "0";
  const s = Math.abs(v).toFixed(1);
  return v < 0 ? "\u2212" + s : s;
}

function ChartPanel({ def }: { def: PanelDef }) {
  const ref = useRef<HTMLCanvasElement | null>(null);
  useEffect(() => {
    if (!ref.current) return;
    const c = def.canvas;
    const a = def.area;
    const yWidth = a.left - c.left;
    const xHeight = c.top + c.height - a.bottom;
    const datasets: any[] = [];
    datasets.push({
      data: toPoints(def.sample), borderColor: COLOR_SAMPLE, borderWidth: 2.2,
      pointRadius: 0, tension: 0, fill: false,
    });
    def.hop1.forEach((arr) => datasets.push({
      data: toPoints(arr), borderColor: COLOR_HOP1, borderWidth: 1,
      pointRadius: 0, tension: 0, fill: false,
    }));
    def.hop2.forEach((arr) => datasets.push({
      data: toPoints(arr), borderColor: COLOR_HOP2, borderWidth: 1,
      pointRadius: 0, tension: 0, fill: false,
    }));
    const tickFont = { family: SERIF, size: 19, lineHeight: 1.2 };
    const chart = new Chart(ref.current, {
      type: "line",
      data: { datasets },
      plugins: [titlePlugin, framePlugin],
      options: {
        animation: false,
        responsive: false,
        events: [],
        layout: {
          padding: { left: 0, top: a.top - c.top, right: c.left + c.width - a.right, bottom: 0 },
        },
        plugins: {
          legend: { display: false },
          tooltip: { enabled: false },
          panelTitle: { letter: def.letter, name: def.name, cx: def.titleX - c.left, cy: def.titleY - c.top, size: 23 },
        } as any,
        scales: {
          x: {
            type: "linear", min: X_MIN, max: X_MAX,
            afterBuildTicks: (s: any) => { s.ticks = X_TICKS.map((v) => ({ value: v })); },
            afterFit: (s: any) => { s.height = xHeight; s.paddingLeft = 0; s.paddingRight = 0; },
            grid: { color: "#cccccc", lineWidth: 1, drawTicks: false },
            border: { display: false },
            ticks: {
              autoSkip: false, maxRotation: 0, padding: 0, color: "#111111", font: tickFont,
              callback: (v: any) => String(v),
            },
          },
          y: {
            type: "linear", min: Y_MIN, max: Y_MAX,
            afterBuildTicks: (s: any) => { s.ticks = Y_TICKS.map((v) => ({ value: v })); },
            afterFit: (s: any) => { s.width = yWidth; s.paddingTop = 0; s.paddingBottom = 0; },
            grid: { color: "#cccccc", lineWidth: 1, drawTicks: false },
            border: { display: false },
            ticks: {
              autoSkip: false, padding: 8, color: "#111111", font: tickFont,
              callback: (v: any) => fmtTick(Number(v)),
            },
          },
        },
      } as any,
    });
    return () => chart.destroy();
  }, [def]);
  return (
    <canvas
      ref={ref}
      width={def.canvas.width}
      height={def.canvas.height}
      style={{
        position: "absolute", left: def.canvas.left, top: def.canvas.top,
        width: def.canvas.width, height: def.canvas.height,
      }}
    />
  );
}

function CapsText({ text, big, small }: { text: string; big: number; small: number }) {
  const segs = capsSegments(text, true);
  return (
    <span style={{ fontFamily: SERIF, color: "#111", whiteSpace: "nowrap" }}>
      {segs.map((s, i) => (
        <span key={i} style={{ fontSize: s.small ? small : big }}>{s.t}</span>
      ))}
    </span>
  );
}

function Legend() {
  const left = 833;
  const top = 677;
  const rowCenters = [701, 731, 761];
  return (
    <div
      style={{
        position: "absolute", left, top, width: 295, height: 108,
        border: "2px solid #000", borderRadius: 15, boxSizing: "border-box", background: "#fff",
      }}
    >
      {LEGEND_LABELS.map((lab, i) => (
        <React.Fragment key={lab}>
          <div
            style={{
              position: "absolute", left: 845 - left - 2, top: rowCenters[i] - top - 2 - 6.5,
              width: 62, height: 13, borderRadius: 7, background: LEGEND_COLORS[i],
            }}
          />
          <div
            style={{
              position: "absolute", left: 1021 - left - 2 - 150, width: 300,
              top: rowCenters[i] - top - 2 - 15, height: 30,
              display: "flex", alignItems: "center", justifyContent: "center", lineHeight: "30px",
            }}
          >
            <CapsText text={lab} big={26} small={20} />
          </div>
        </React.Fragment>
      ))}
    </div>
  );
}

export default function App() {
  return (
    <div style={{ position: "absolute", left: 0, top: 0, width: 1298, height: 870, background: "#fff", overflow: "hidden" }}>
      {PANELS.map((p) => (
        <ChartPanel key={p.letter} def={p} />
      ))}
      <Legend />
    </div>
  );
}
